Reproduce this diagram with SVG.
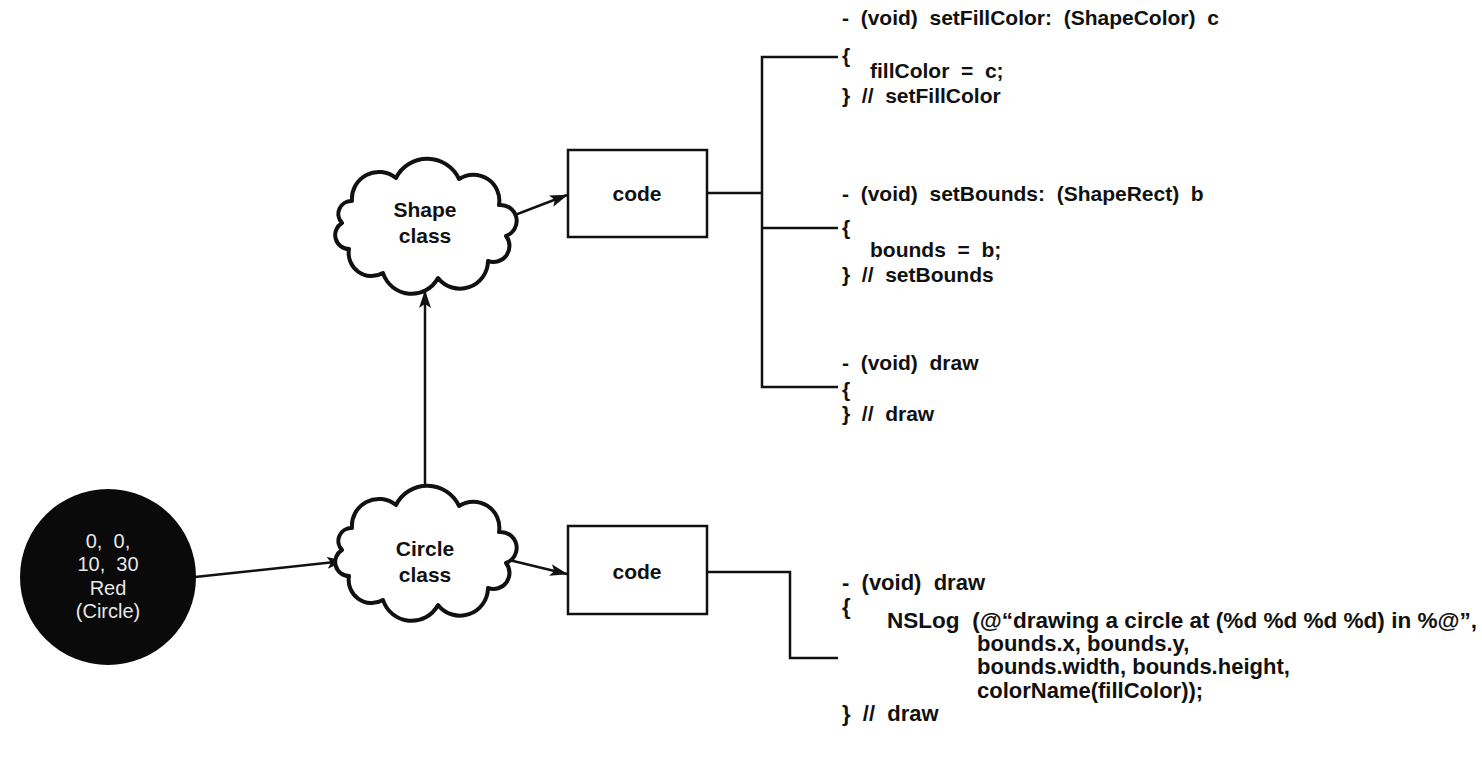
<svg xmlns="http://www.w3.org/2000/svg" width="1482" height="762" viewBox="0 0 1482 762">
<style>
.code{font-family:"Liberation Sans",Arial,sans-serif;font-size:21px;font-weight:bold;fill:#111;}
.code2{font-family:"Liberation Sans",Arial,sans-serif;font-size:22px;font-weight:bold;fill:#111;}
.lbl{font-family:"Liberation Sans",Arial,sans-serif;font-size:21px;font-weight:bold;fill:#111;text-anchor:middle;}
.wlbl{font-family:"Liberation Sans",Arial,sans-serif;font-size:20px;fill:#e6e6e6;text-anchor:middle;}
.cloud{fill:#fff;stroke:#111;stroke-width:4;stroke-linejoin:round;}
.box{fill:#fff;stroke:#111;stroke-width:2.5;}
.ln{fill:none;stroke:#111;stroke-width:2.5;}
.arr{fill:none;stroke:#111;stroke-width:2.5;marker-end:url(#ah);}
</style>
<defs>
<marker id="ah" viewBox="0 0 18 12" refX="17" refY="6" markerWidth="18" markerHeight="12" markerUnits="userSpaceOnUse" orient="auto">
<path d="M0,0 L18,6 L0,12 L4,6 Z" fill="#111"/>
</marker>
<path id="cloudshape" d="M-72,-26 A27,27 0 0 1 -28,-49 A35,35 0 0 1 35,-48 A26,26 0 0 1 75,-22 A16,16 0 0 1 82,9 A16,16 0 0 1 64,34 A28,28 0 0 1 14,51 A30,30 0 0 1 -41,46 A23,23 0 0 1 -75,22 A14,14 0 0 1 -82,-4 A13,13 0 0 1 -72,-26 Z"/>
</defs>
<rect width="1482" height="762" fill="#fff"/>

<g id="connectors">
<line class="arr" x1="195" y1="577" x2="344" y2="561"/>
<line class="arr" x1="425" y1="492" x2="425" y2="291"/>
<line class="arr" x1="507" y1="218" x2="567" y2="195"/>
<line class="arr" x1="509" y1="560" x2="567" y2="574"/>
<polyline class="ln" points="707,193 762,193"/>
<polyline class="ln" points="838,57 762,57 762,387 838,387"/>
<line class="ln" x1="762" y1="228" x2="838" y2="228"/>
<polyline class="ln" points="707,572 790,572 790,658 838,658"/>
</g>

<g id="instance">
<circle cx="108" cy="577" r="88" fill="#0a0a0a"/>
<text class="wlbl" x="108" y="548" xml:space="preserve">0,  0,</text>
<text class="wlbl" x="108" y="571" xml:space="preserve">10,  30</text>
<text class="wlbl" x="108" y="595">Red</text>
<text class="wlbl" x="108" y="618">(Circle)</text>
</g>

<g id="shape-class">
<use href="#cloudshape" class="cloud" transform="translate(424,227)"/>
<text class="lbl" x="425" y="217">Shape</text>
<text class="lbl" x="425" y="243">class</text>
</g>

<g id="circle-class">
<use href="#cloudshape" class="cloud" transform="translate(424,554)"/>
<text class="lbl" x="425" y="556">Circle</text>
<text class="lbl" x="425" y="582">class</text>
</g>

<g id="shape-code">
<rect class="box" x="568" y="150" width="139" height="87"/>
<text class="lbl" x="637" y="201">code</text>
</g>

<g id="circle-code">
<rect class="box" x="568" y="526" width="139" height="88"/>
<text class="lbl" x="637" y="579">code</text>
</g>

<g id="shape-methods">
<text class="code" x="842" y="25" xml:space="preserve">-  (void)  setFillColor:  (ShapeColor)  c</text>
<text class="code" x="842" y="63">{</text>
<text class="code" x="870" y="78" xml:space="preserve">fillColor  =  c;</text>
<text class="code" x="842" y="103" xml:space="preserve">}  //  setFillColor</text>
<text class="code" x="842" y="201" xml:space="preserve">-  (void)  setBounds:  (ShapeRect)  b</text>
<text class="code" x="842" y="235">{</text>
<text class="code" x="870" y="257" xml:space="preserve">bounds  =  b;</text>
<text class="code" x="842" y="282" xml:space="preserve">}  //  setBounds</text>
<text class="code" x="842" y="370" xml:space="preserve">-  (void)  draw</text>
<text class="code" x="842" y="397">{</text>
<text class="code" x="842" y="421" xml:space="preserve">}  //  draw</text>
</g>

<g id="circle-methods">
<text class="code2" x="842" y="590" xml:space="preserve">-  (void)  draw</text>
<text class="code2" x="842" y="614">{</text>
<text class="code2" x="887" y="628" textLength="590" lengthAdjust="spacingAndGlyphs" xml:space="preserve">NSLog  (@“drawing a circle at (%d %d %d %d) in %@”,</text>
<text class="code2" x="977" y="651">bounds.x, bounds.y,</text>
<text class="code2" x="977" y="674">bounds.width, bounds.height,</text>
<text class="code2" x="977" y="698">colorName(fillColor));</text>
<text class="code2" x="842" y="721" xml:space="preserve">}  //  draw</text>
</g>
</svg>
